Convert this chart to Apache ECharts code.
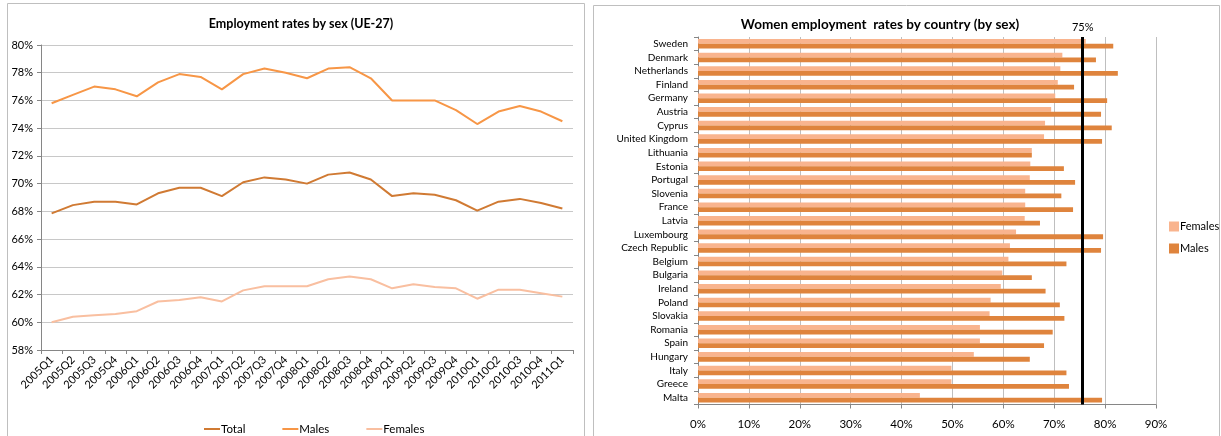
<!DOCTYPE html>
<html><head><meta charset="utf-8">
<script src="https://cdn.jsdelivr.net/npm/echarts@6/dist/echarts.min.js"></script>
<style>html,body{margin:0;padding:0;background:#fff}#c{width:1221px;height:436px}</style>
</head><body><div id="c"></div>
<script>
const quarters = ['2005Q1','2005Q2','2005Q3','2005Q4','2006Q1','2006Q2','2006Q3','2006Q4','2007Q1','2007Q2','2007Q3','2007Q4','2008Q1','2008Q2','2008Q3','2008Q4','2009Q1','2009Q2','2009Q3','2009Q4','2010Q1','2010Q2','2010Q3','2010Q4','2011Q1'];
const totalRate = [67.85,68.45,68.7,68.7,68.5,69.3,69.7,69.7,69.1,70.1,70.45,70.3,70.0,70.65,70.8,70.3,69.1,69.3,69.2,68.8,68.05,68.7,68.9,68.6,68.2];
const malesRate = [75.8,76.4,77.0,76.8,76.3,77.3,77.9,77.7,76.8,77.9,78.3,78.0,77.6,78.3,78.4,77.6,76.0,76.0,76.0,75.3,74.3,75.2,75.6,75.2,74.5];
const femalesRate = [60.0,60.4,60.5,60.6,60.8,61.5,61.6,61.8,61.5,62.3,62.6,62.6,62.6,63.1,63.3,63.1,62.45,62.75,62.55,62.45,61.7,62.35,62.35,62.1,61.85];

const countries = ['Sweden','Denmark','Netherlands','Finland','Germany','Austria','Cyprus','United Kingdom','Lithuania','Estonia','Portugal','Slovenia','France','Latvia','Luxembourg','Czech Republic','Belgium','Bulgaria','Ireland','Poland','Slovakia','Romania','Spain','Hungary','Italy','Greece','Malta'];
const femalesByCountry = [76.2,71.6,71.2,70.7,70.2,69.4,68.2,68.0,65.6,65.3,65.2,64.3,64.3,64.2,62.5,61.3,61.0,59.8,59.5,57.5,57.3,55.4,55.4,54.2,49.8,49.8,43.6];
const malesByCountry = [81.6,78.2,82.5,73.9,80.4,79.2,81.3,79.4,65.6,71.9,74.1,71.4,73.7,67.2,79.6,79.2,72.4,65.6,68.3,71.1,72.0,69.7,68.0,65.2,72.4,72.9,79.4];
const targetValue = 75.6;
const targetLabel = '75%';

const FONT = 'Lato, "Open Sans", sans-serif';
const chart = echarts.init(document.getElementById('c'));
chart.setOption({
  animation: false,
  textStyle: {fontFamily: FONT, color: '#000'},
  graphic: [
    {type:'rect', shape:{x:7.5,y:3.5,width:577,height:440}, style:{fill:'none', stroke:'#BFBFBF', lineWidth:1}, silent:true},
    {type:'rect', shape:{x:593.5,y:5.5,width:626,height:440}, style:{fill:'none', stroke:'#BFBFBF', lineWidth:1}, silent:true}
  ],
  title: [
    {text:'Employment rates by sex (UE-27)', left:296, top:12, textAlign:'center', textStyle:{fontFamily:FONT, fontSize:12.5, fontWeight:'bold', color:'#000'}},
    {text:'Women employment  rates by country (by sex)', left:875, top:13, textAlign:'center', textStyle:{fontFamily:FONT, fontSize:13.5, fontWeight:'bold', color:'#000'}}
  ],
  legend: [
    {data:['Total','Males','Females'].map(n=>({name:n})), left:199, top:418, itemGap:37, itemWidth:16, itemHeight:2, icon:'rect',
     textStyle:{fontFamily:FONT, fontSize:11.5, color:'#000', padding:[0,0,0,-4]}},
    {data:['Females ','Males '], left:1164, top:216, orient:'vertical', itemGap:11, itemWidth:10, itemHeight:10, icon:'rect',
     textStyle:{fontFamily:FONT, fontSize:11, color:'#000', padding:[0,0,0,-4]}}
  ],
  grid: [
    {left:41, right:648, top:45, bottom:86},
    {left:698, right:65, top:37, bottom:31.5}
  ],
  xAxis: [
    {type:'category', gridIndex:0, data:quarters, boundaryGap:true,
     axisLine:{lineStyle:{color:'#868686'}}, axisTick:{show:true, length:4, lineStyle:{color:'#868686'}},
     axisLabel:{rotate:45, fontSize:11, color:'#000', margin:8, interval:0}},
    {type:'value', gridIndex:1, min:0, max:90, interval:10,
     axisLine:{show:true, lineStyle:{color:'#868686'}}, axisTick:{show:true, length:4, lineStyle:{color:'#868686'}},
     splitLine:{lineStyle:{color:'#BFBFBF'}},
     axisLabel:{formatter:'{value}%', fontSize:11.5, color:'#000', margin:14}}
  ],
  yAxis: [
    {type:'value', gridIndex:0, min:58, max:80, interval:2,
     axisLine:{show:true, lineStyle:{color:'#868686'}}, axisTick:{show:true, length:4, lineStyle:{color:'#868686'}},
     splitLine:{lineStyle:{color:'#C8C8C8', width:1}},
     axisLabel:{formatter:'{value}%', fontSize:11, color:'#000', margin:8}},
    {type:'category', gridIndex:1, data:countries, inverse:true,
     axisLine:{lineStyle:{color:'#868686'}}, axisTick:{show:true, length:4, lineStyle:{color:'#868686'}},
     axisLabel:{fontSize:10, color:'#000', margin:10, interval:0}}
  ],
  series: [
    {name:'Total', type:'line', xAxisIndex:0, yAxisIndex:0, data:totalRate, showSymbol:false, symbol:'none', lineStyle:{color:'#D07A33', width:2}, itemStyle:{color:'#D07A33'}},
    {name:'Males', type:'line', xAxisIndex:0, yAxisIndex:0, data:malesRate, showSymbol:false, symbol:'none', lineStyle:{color:'#F79646', width:2}, itemStyle:{color:'#F79646'}},
    {name:'Females', type:'line', xAxisIndex:0, yAxisIndex:0, data:femalesRate, showSymbol:false, symbol:'none', lineStyle:{color:'#F9BFA0', width:2}, itemStyle:{color:'#F9BFA0'}},
    {name:'Females ', type:'bar', xAxisIndex:1, yAxisIndex:1, data:femalesByCountry, barGap:'0%', barCategoryGap:'30%', itemStyle:{color:'#F9B48E'}},
    {name:'Males ', type:'bar', xAxisIndex:1, yAxisIndex:1, data:malesByCountry, barGap:'0%', barCategoryGap:'30%', itemStyle:{color:'#DF843D'},
     markLine:{symbol:'none', silent:true, lineStyle:{color:'#000', width:3, type:'solid'},
       label:{show:true, formatter:targetLabel, position:'start', distance:4, fontFamily:FONT, fontSize:11, color:'#000'},
       data:[{xAxis:targetValue}]}}
  ]
});
</script></body></html>
